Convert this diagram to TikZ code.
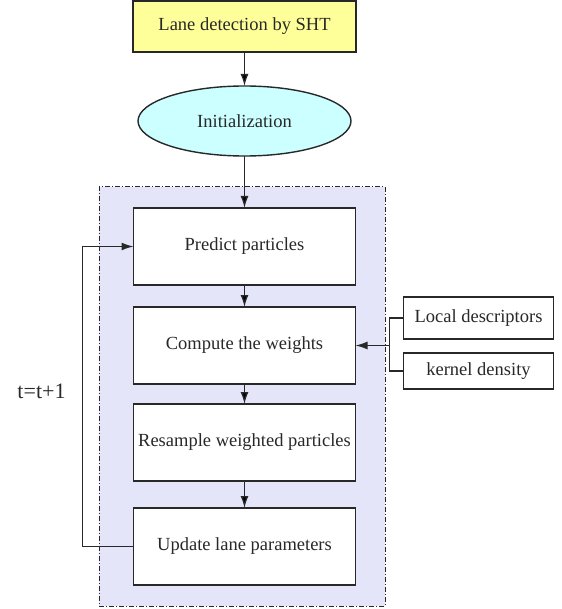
\documentclass[tikz,border=0pt]{standalone}
\usepackage{fontspec}
\setmainfont{Liberation Serif}
\usepackage{xcolor}
\usetikzlibrary{arrows.meta,positioning,shapes.geometric,fit,backgrounds}

\definecolor{shtyellow}{RGB}{255,255,153}
\definecolor{initcyan}{RGB}{204,255,255}
\definecolor{loopfill}{RGB}{229,229,250}
\definecolor{linegray}{RGB}{40,40,40}

\begin{document}
\begin{tikzpicture}[>={Latex[length=12pt,width=8pt]},x=1pt,y=1pt,
        font=\fontsize{18.5}{22}\selectfont, text=linegray, every node/.style={outer sep=0pt}]
        \tikzset{block/.style= {draw=linegray, line width=1.4pt, rectangle, align=center,minimum width=222pt,minimum height=77pt, fill=white},
        sideblock/.style={draw=linegray, line width=1.2pt, rectangle, align=center,minimum width=150pt,minimum height=39pt, fill=white},
        oval/.style={ % requires library shapes.geometric
        draw=linegray,
        line width=1.4pt,
        ellipse,
        fill=initcyan,
        minimum width=213pt,
        minimum height=70pt
    },
        link/.style={draw=linegray, line width=1.3pt}
        }
        \useasboundingbox (0,0) rectangle (561,-609);
        \node [block, fill=shtyellow, minimum width=223pt, minimum height=51pt]  (sht) at (244.5,-26.5) {Lane detection by SHT};
        \node [oval, below =34pt of sht] (init) {Initialization};
        \node [block, below =52pt of init] (predict) {Predict particles};
        \node [block, below =22pt of predict] (weights) {Compute the weights};
        \node [block, below =20pt of weights] (resample) {Resample weighted particles};
        \node [block, below =27pt of resample] (update) {Update lane parameters};
        \node [sideblock, minimum height=42pt, above right =6.5pt and 48pt of weights.east, anchor=south west] (local) {Local descriptors};
        \node [sideblock, minimum height=36pt, below =14pt of local] (kernel) {kernel density};
        \node [coordinate, left =14pt of local.west] (merge) {};  %% joins the two side inputs
        \node [coordinate, left =51pt of update.west] (back) {};  %% loop back on the left
        \node (count) at (41.5,-391) {\fontsize{22}{26}\selectfont t=t+1};

%% dash-dot frame round the loop
        \begin{scope}[on background layer]
        \node [draw=linegray, line width=1pt, fill=loopfill, dash pattern=on 5pt off 2pt on 1pt off 2pt,
               inner xsep=32pt, inner ysep=21pt, xshift=-2.5pt, fit=(predict)(update)] (frame) {};
        \end{scope}

%% paths
        \path[link,->] (sht) edge (init)
                    (init) edge (predict)
                    (predict) edge (weights)
                    (weights) edge (resample)
                    (resample) edge (update);
        \draw[link] (local.west) -- (merge) |- (kernel.west);
        \draw[link,->] (merge |- weights.east) -- (weights.east);
        \draw[link,->] (update.west) -- (back) |- (predict.west);
    \end{tikzpicture}
\end{document}
